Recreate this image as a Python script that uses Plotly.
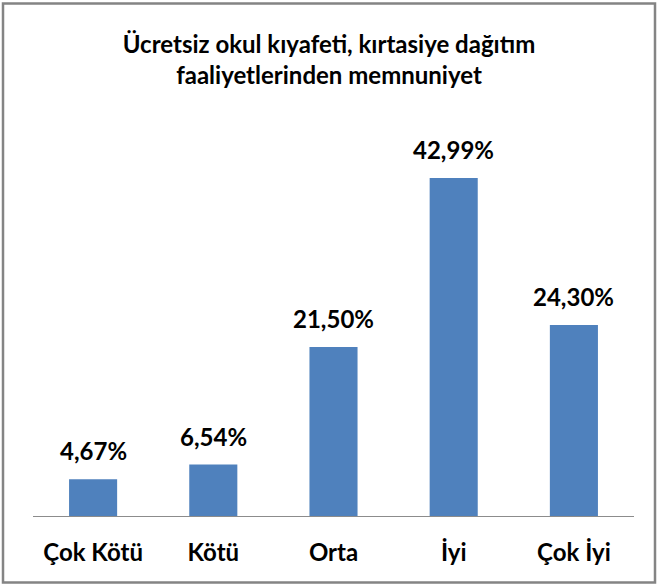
import plotly.graph_objects as go

categories = ["Çok Kötü", "Kötü", "Orta", "İyi", "Çok İyi"]
values = [4.67, 6.54, 21.50, 42.99, 24.30]
labels = [f"{v:.2f}".replace(".", ",") + "%" for v in values]

title_text = "Ücretsiz okul kıyafeti, kırtasiye dağıtım<br>faaliyetlerinden memnuniyet"
FONT = "Lato"
BAR = "#4F81BD"

fig = go.Figure()
fig.add_trace(go.Bar(
    x=categories, y=values, marker=dict(color=BAR, line=dict(width=0)),
    width=0.4, hoverinfo="skip",
))
for c, v, t in zip(categories, values, labels):
    fig.add_annotation(x=c, y=v, text=f"<b>{t}</b>", showarrow=False,
                       yanchor="bottom", yshift=12,
                       font=dict(family=FONT, size=24, color="#000"))

L, R, T, B = 33, 24, 123, 70
W, H = 658, 586
pw, ph = W - L - R, H - T - B
def px(x): return (x - L) / pw
def py(y): return (H - B - y) / ph

fig.add_shape(type="rect", xref="paper", yref="paper",
              x0=px(3), x1=px(655), y0=py(582.5), y1=py(3.5),
              line=dict(color="#848484", width=2.5), fillcolor="rgba(0,0,0,0)")

fig.update_layout(
    width=W, height=H,
    margin=dict(l=L, r=R, t=T, b=B),
    paper_bgcolor="white", plot_bgcolor="white",
    showlegend=False,
    title=dict(text=f"<b>{title_text}</b>", x=0.5, xanchor="center",
               y=1 - 53 / H, yanchor="middle",
               font=dict(family=FONT, size=24, color="#000")),
    xaxis=dict(showline=True, linecolor="#8c8c8c", linewidth=1, ticks="",
               tickfont=dict(family=FONT, size=24, color="#000"),
               showgrid=False, zeroline=False, fixedrange=True),
    yaxis=dict(range=[0, 50], visible=False, showgrid=False, zeroline=False),
)
fig.update_xaxes(tickprefix="<b>", ticksuffix="</b>", ticklabelstandoff=15)
fig.write_html("out.html", config={"displayModeBar": False})

with open("out.html", "r", encoding="utf-8") as f:
    html = f.read()
html = html.replace("<body>", '<body style="margin:0;padding:0;overflow:hidden">', 1)
html = html.replace("<head>", "<head><style>html,body{margin:0;padding:0;}</style>", 1)
with open("out.html", "w", encoding="utf-8") as f:
    f.write(html)
